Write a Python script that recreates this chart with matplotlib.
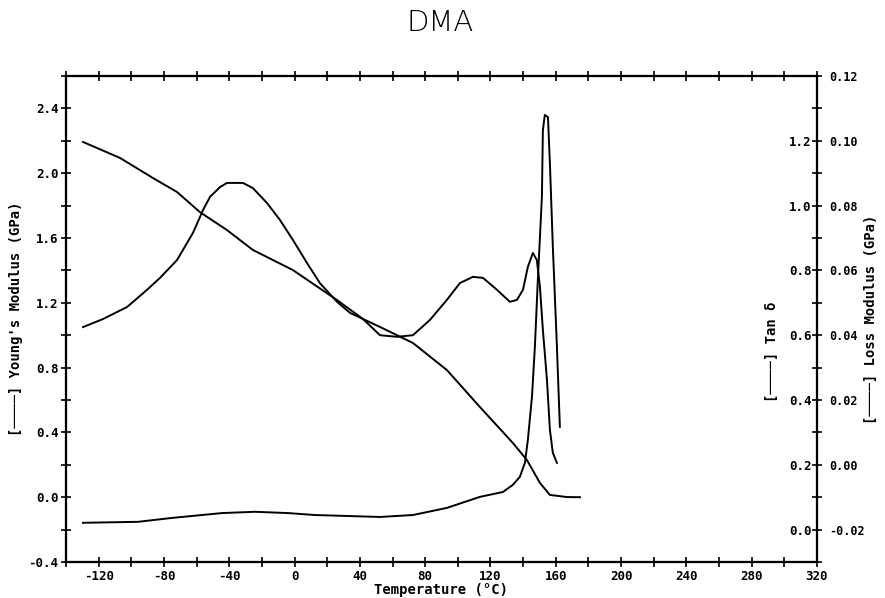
import numpy as np
import matplotlib
matplotlib.use("Agg")
import matplotlib.pyplot as plt

# Young's modulus (GPa), left axis
temp_e = [-129.6, -106.9, -86.7, -72.0, -58.0, -41.4, -25.5, -1.0, 26.0, 41.9,
          52.3, 72.5, 93.3, 113.5, 133.7, 142.3, 150.3, 156.4, 166.8, 174.8]
modulus_e = [2.193, 2.094, 1.970, 1.884, 1.760, 1.649, 1.526, 1.402, 1.217, 1.100,
             1.051, 0.952, 0.785, 0.557, 0.335, 0.230, 0.088, 0.014, 0.001, 0.000]

# Loss modulus (GPa), outer right axis
temp_lm = [-129.6, -117.3, -102.6, -90.4, -82.4, -72.0, -62.2, -56.1, -51.8, -45.7,
           -41.4, -31.6, -25.5, -16.9, -9.0, -1.0, 7.6, 15.5, 26.0, 33.9,
           41.9, 52.3, 62.7, 72.5, 82.9, 93.3, 101.3, 109.2, 115.4, 124.0,
           131.9, 136.2, 139.9, 142.9, 146.0, 148.4, 150.3, 152.1, 154.6, 156.4,
           158.2, 160.7]
loss_mod = [0.0425, 0.0450, 0.0487, 0.0540, 0.0577, 0.0632, 0.0716, 0.0786, 0.0827, 0.0857,
            0.0870, 0.0870, 0.0854, 0.0808, 0.0756, 0.0694, 0.0623, 0.0561, 0.0503, 0.0469,
            0.0450, 0.0400, 0.0395, 0.0400, 0.0447, 0.0509, 0.0561, 0.0580, 0.0577, 0.0540,
            0.0503, 0.0509, 0.0540, 0.0611, 0.0654, 0.0632, 0.0549, 0.0416, 0.0262, 0.0108,
            0.0037, 0.0006]

# Tan delta, inner right axis
temp_td = [-129.6, -95.9, -75.1, -44.5, -24.3, -4.0, 12.5, 52.3, 72.5, 93.3,
           113.5, 127.6, 133.7, 138.0, 141.1, 142.9, 145.4, 147.2, 149.0, 151.5,
           152.1, 153.3, 155.2, 156.4, 158.2, 160.7, 162.5]
tan_d = [0.021, 0.024, 0.036, 0.051, 0.055, 0.051, 0.045, 0.039, 0.045, 0.067,
         0.101, 0.116, 0.138, 0.163, 0.206, 0.277, 0.409, 0.564, 0.770, 1.027,
         1.233, 1.280, 1.273, 1.131, 0.872, 0.564, 0.317]

x_ticks = list(range(-120, 321, 40))
e_ticks = [-0.4, 0.0, 0.4, 0.8, 1.2, 1.6, 2.0, 2.4]
lm_ticks = [-0.02, 0.0, 0.02, 0.04, 0.06, 0.08, 0.10, 0.12]
td_ticks = [0.0, 0.2, 0.4, 0.6, 0.8, 1.0, 1.2]

tick_font = dict(family="DejaVu Sans Mono", weight="bold", size=9)
label_font = dict(family="DejaVu Sans Mono", weight="bold", size=10)
LW = 1.4

fig = plt.figure(figsize=(8.85, 5.98), dpi=100)
ax = fig.add_axes([66 / 885, 36 / 598, 751 / 885, 486 / 598])
ax_lm = ax.twinx()
ax_td = ax.twinx()

ax.plot(temp_e, modulus_e, color="black", lw=LW)
ax_lm.plot(temp_lm, loss_mod, color="black", lw=LW)
ax_td.plot(temp_td, tan_d, color="black", lw=LW)

ax.set_xlim(-140, 320)
ax.set_ylim(-0.4, 2.6)
ax_lm.set_ylim(-0.03, 0.12)
ax_td.set_ylim(-0.1, 1.4)

ax.set_xticks(x_ticks)
ax.set_xticklabels([str(v) for v in x_ticks], **tick_font)
ax.set_xticks(np.arange(-140, 321, 20), minor=True)
ax.set_yticks(e_ticks)
ax.set_yticklabels([f"{v:.1f}" for v in e_ticks], **tick_font)
ax.set_yticks(np.arange(-0.4, 2.61, 0.2), minor=True)
ax.tick_params(which="both", direction="inout", length=7, width=1.2,
               top=True, right=False, pad=2)

ax_lm.set_yticks(lm_ticks)
ax_lm.set_yticklabels([f"{v:.2f}" for v in lm_ticks],
                      family="DejaVu Sans Mono", weight="bold", size=8.5)
ax_lm.set_yticks(np.arange(-0.03, 0.121, 0.01), minor=True)
ax_lm.tick_params(which="both", direction="inout", length=7, width=1.2, pad=5)

ax_td.set_yticks(td_ticks)
ax_td.set_yticklabels([f"{v:.1f}" for v in td_ticks], ha="right", **tick_font)
ax_td.tick_params(axis="y", which="both", length=0, pad=-4)

for a in (ax, ax_lm, ax_td):
    for s in a.spines.values():
        s.set_linewidth(1.5)

ax.set_xlabel("Temperature (°C)", labelpad=0, **label_font)
ax.text(-0.067, 0.5, "[────] Young's Modulus (GPa)", transform=ax.transAxes,
        rotation=90, ha="center", va="center", **label_font)
ax.text(0.94, 0.432, "[────] Tan δ", transform=ax.transAxes,
        rotation=90, ha="center", va="center", **label_font)
ax.text(1.072, 0.5, "[────] Loss Modulus (GPa)", transform=ax.transAxes,
        rotation=90, ha="center", va="center", **label_font)

fig.text(0.497, 0.962, "DMA", ha="center", va="center", size=21,
         family="DejaVu Sans", weight="light")

fig.savefig("out.png", dpi=100)
